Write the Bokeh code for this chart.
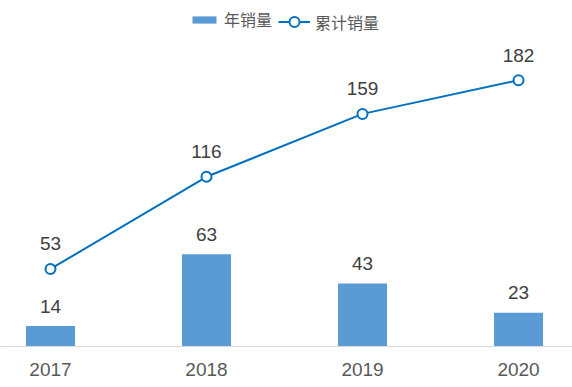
from bokeh.plotting import figure
from bokeh.models import (ColumnDataSource, Range1d, FixedTicker, LabelSet,
                          Legend, LegendItem)
from bokeh.core.properties import value
from bokeh.embed import file_html
from bokeh.resources import INLINE

years = ["2017", "2018", "2019", "2020"]
annual = [14, 63, 43, 23]
cumulative = [53, 116, 159, 182]

xs = list(range(len(years)))
src = ColumnDataSource(dict(x=xs, annual=annual, cum=cumulative,
                            annual_txt=[str(v) for v in annual],
                            cum_txt=[str(v) for v in cumulative]))

p = figure(width=572, height=387, output_backend="svg", toolbar_location=None,
           x_range=Range1d(-0.3205, 3.346), y_range=Range1d(0, 236.5),
           min_border_left=0, min_border_right=0, min_border_top=0,
           min_border_bottom=41)
p.outline_line_color = None
p.xgrid.visible = False
p.ygrid.visible = False
p.yaxis.visible = False
p.background_fill_color = "white"

bars = p.vbar(x="x", top="annual", width=0.314, bottom=0, source=src,
              fill_color="#5B9BD5", line_color=None)
ln = p.line(x="x", y="cum", source=src, line_color="#0070C0", line_width=2)
sc = p.scatter(x="x", y="cum", source=src, size=10, marker="circle",
               fill_color="white", line_color="#0070C0", line_width=2)

ax = p.xaxis[0]
ax.ticker = FixedTicker(ticks=xs)
ax.major_label_overrides = {i: y for i, y in zip(xs, years)}
ax.axis_line_color = "#d9d9d9"
ax.axis_line_width = 1
ax.major_tick_line_color = None
ax.minor_tick_line_color = None
ax.major_label_standoff = 10
ax.major_label_text_font = "Liberation Sans"
ax.major_label_text_font_size = "19px"
ax.major_label_text_color = "#595959"

lab_kw = dict(text_align="center", text_baseline="middle",
              text_font=value("Liberation Sans"), text_font_size="19px",
              text_color="#404040")
p.add_layout(LabelSet(x="x", y="annual", text="annual_txt", y_offset=20,
                      source=src, **lab_kw))
p.add_layout(LabelSet(x="x", y="cum", text="cum_txt", y_offset=25,
                      source=src, **lab_kw))

leg_kw = dict(padding=0, margin=0, border_line_alpha=0, background_fill_alpha=0,
              label_text_font="Noto Sans CJK SC", label_text_font_size="16px",
              label_text_color="#595959", label_standoff=5, glyph_width=30,
              label_height=18)
leg1 = Legend(items=[LegendItem(label="年销量", renderers=[bars])],
              location=(189, 315), glyph_height=9, **leg_kw)
leg2 = Legend(items=[LegendItem(label="累计销量", renderers=[ln, sc])],
              location=(278, 312), glyph_height=25, **leg_kw)
leg2.glyph_width = 32
p.add_layout(leg1)
p.add_layout(leg2)

open("out.html", "w").write(file_html(p, INLINE))
